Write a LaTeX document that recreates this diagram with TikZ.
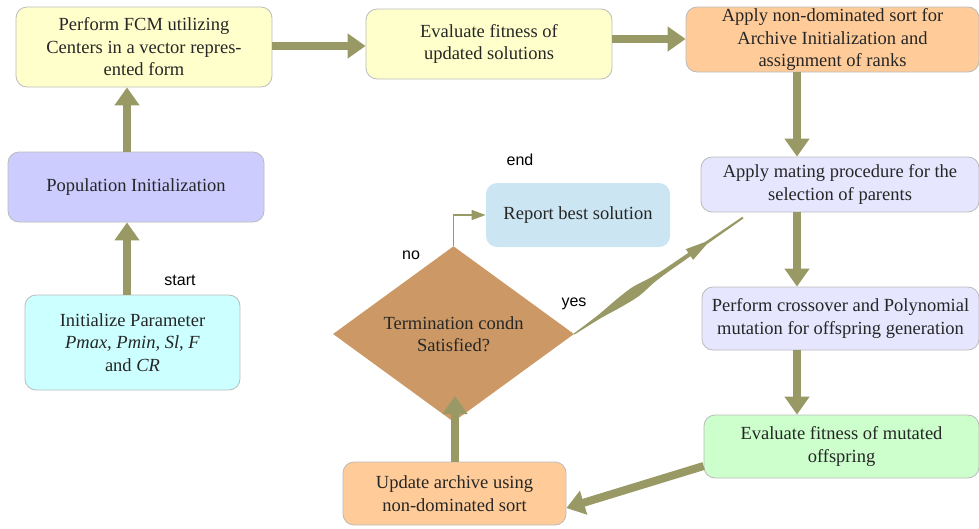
\documentclass[tikz,border=0pt]{standalone}
\usepackage{fontspec}
\setmainfont{Liberation Serif}
\newfontfamily\lblfont{Liberation Sans}
\usetikzlibrary{arrows.meta,shapes.geometric}
\definecolor{olv}{HTML}{999966}
\definecolor{bord}{HTML}{BBBBBB}
\definecolor{cyel}{HTML}{FFFFCC}
\definecolor{cpeach}{HTML}{FFCC99}
\definecolor{clav}{HTML}{CCCCFF}
\definecolor{clav2}{HTML}{E6E6FF}
\definecolor{ccyan}{HTML}{CCFFFF}
\definecolor{cblue}{HTML}{CCE5F2}
\definecolor{cgreen}{HTML}{CCFFCC}
\definecolor{cdia}{HTML}{CC9966}
\begin{document}
\begin{tikzpicture}[x=1pt,y=-1pt,
  box/.style={draw=bord, line width=0.8pt, rounded corners=11pt, align=center, inner sep=0pt,
    font=\fontsize{18.5}{22.5}\selectfont, text=black!85},
  fat/.style={draw=olv, line width=8pt, -{Triangle[width=24pt,length=18pt]}},
  thin/.style={draw=olv, line width=1.3pt, -{Triangle[width=10pt,length=14pt]}},
  lbl/.style={font=\lblfont\fontsize{16}{18}\selectfont, text=black}]
\useasboundingbox (0,0) rectangle (979,528);
% nodes
\node[box, fill=cyel, minimum width=256pt, minimum height=80pt] (A) at (144,47) {Perform FCM utilizing\\Centers in a vector repres-\\ented form};
\node[box, fill=cyel, minimum width=246pt, minimum height=70pt] (B) at (489,44) {Evaluate fitness of\\updated solutions};
\node[box, fill=cpeach, minimum width=293pt, minimum height=65pt] (C) at (832.5,39.5) {Apply non-dominated sort for\\Archive Initialization and\\assignment of ranks};
\node[box, fill=clav, minimum width=256pt, minimum height=70pt] (D) at (136,187) {Population Initialization};
\node[box, fill=ccyan, minimum width=215pt, minimum height=95pt] (E) at (132.5,342.5) {Initialize Parameter\\\textit{Pmax, Pmin, Sl, F}\\and \textit{CR}};
\node[box, draw=none, fill=cblue, minimum width=184pt, minimum height=64pt] (F) at (578,215) {Report best solution};
\node[box, fill=clav2, minimum width=278pt, minimum height=55pt] (G) at (840,184.5) {Apply mating procedure for the\\selection of parents};
\node[box, fill=clav2, minimum width=277pt, minimum height=63pt] (H) at (840.5,318.5) {Perform crossover and Polynomial\\mutation for offspring generation};
\node[box, fill=cgreen, minimum width=275pt, minimum height=63pt] (I) at (841.5,446.5) {Evaluate fitness of mutated\\offspring};
\node[box, fill=cpeach, minimum width=223pt, minimum height=63pt] (J) at (454.5,493.5) {Update archive using\\non-dominated sort};
\node[diamond, fill=cdia, minimum width=241pt, minimum height=126pt, inner sep=0pt, align=center,
  font=\fontsize{18.5}{22.5}\selectfont, text=black!85] (K) at (453.5,334) {Termination condn\\Satisfied?};
% labels
\node[lbl] (ls) at (180,280) {start};
\node[lbl] (le) at (520,160) {end};
\node[lbl] (ln) at (411,255) {no};
\node[lbl] (ly) at (574,304) {yes};
% connectors
\draw[fat] (E.north -| 127,0) -- (D.south -| 127,0);
\draw[fat] (D.north -| 127,0) -- (A.south -| 127,0);
\draw[fat] (A.east |- 0,46) -- (B.west |- 0,46);
\draw[fat] (B.east |- 0,39) -- (C.west |- 0,39);
\draw[fat] (C.south -| 797,0) -- (G.north -| 797,0);
\draw[fat] (G.south -| 797,0) -- (H.north -| 797,0);
\draw[fat] (H.south -| 797,0) -- (I.north -| 797,0);
\draw[fat] (I.west |- 0,466) -- (J.east |- 0,508);
\draw[fat] (J.north -| 455,0) -- (455,396);
\draw[thin] (K.north) -- (453.5,215) -- (F.west);
% yes connector (tapered, with a mid arrowhead)
\begin{scope}[shift={(K.east)}, rotate=34.6]
\fill[olv] plot[smooth] coordinates {(0,0.6) (30,2) (55,4.5) (75,5.5) (95,3) (112,2.2)}
  -- (140,2) -- (140,6.5) -- (160,1.4) -- (205,1) -- (205,-1) -- (160,-1.4) -- (140,-6.5) -- (140,-2)
  -- plot[smooth] coordinates {(112,-2.2) (95,-3) (75,-5.5) (55,-4.5) (30,-2) (0,-0.6)} -- cycle;
\end{scope}
\end{tikzpicture}
\end{document}
